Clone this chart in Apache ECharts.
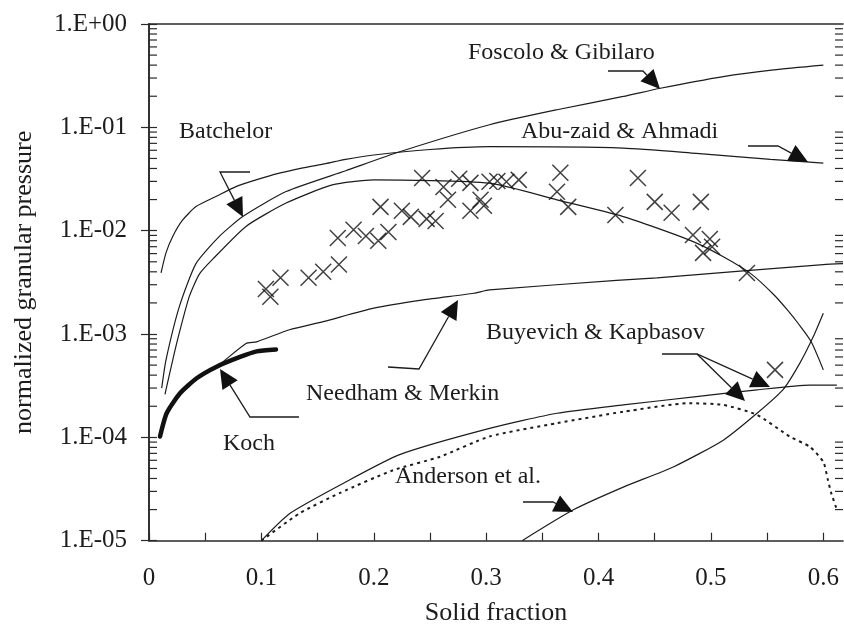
<!DOCTYPE html>
<html>
<head>
<meta charset="utf-8">
<script src="https://cdn.jsdelivr.net/npm/echarts@6/dist/echarts.min.js"></script>
<style>
  html, body { margin: 0; padding: 0; background: #ffffff; }
  #chart { width: 844px; height: 628px; }
</style>
</head>
<body>
<div id="chart"></div>
<script>
// Normalized granular pressure vs. solid fraction: model curves and measurements.

// Foscolo & Gibilaro
const foscolo = [
  [0.0113, 3.0e-4], [0.0151, 5.6e-4], [0.027, 1.84e-3], [0.0418, 4.8e-3], [0.0626, 8.8e-3],
  [0.0834, 1.37e-2], [0.122, 2.39e-2], [0.175, 3.8e-2], [0.223, 5.8e-2], [0.303, 0.106],
  [0.363, 0.148], [0.422, 0.199], [0.455, 0.239], [0.511, 0.31], [0.556, 0.36], [0.600, 0.40]
];
// Abu-zaid & Ahmadi
const abuZaid = [
  [0.0107, 3.9e-3], [0.0151, 6.1e-3], [0.0211, 8.8e-3], [0.030, 1.27e-2], [0.0418, 1.71e-2],
  [0.0596, 2.14e-2], [0.0774, 2.67e-2], [0.0952, 3.1e-2], [0.116, 3.6e-2], [0.137, 4.05e-2],
  [0.157, 4.45e-2], [0.175, 4.9e-2], [0.200, 5.4e-2], [0.250, 6.1e-2], [0.303, 6.5e-2],
  [0.422, 6.3e-2], [0.487, 5.6e-2], [0.553, 4.9e-2], [0.600, 4.5e-2]
];
// Batchelor
const batchelor = [
  [0.0142, 2.6e-4], [0.0211, 5.6e-4], [0.027, 1.03e-3], [0.0358, 2.3e-3], [0.0448, 3.8e-3],
  [0.0567, 5.3e-3], [0.0863, 1.1e-2], [0.122, 1.85e-2], [0.163, 2.77e-2], [0.200, 3.1e-2],
  [0.303, 2.88e-2], [0.363, 1.99e-2], [0.422, 1.37e-2], [0.481, 8.1e-3], [0.511, 5.6e-3],
  [0.536, 3.8e-3], [0.556, 2.4e-3], [0.568, 1.71e-3], [0.578, 1.25e-3], [0.589, 8.5e-4],
  [0.600, 4.5e-4]
];
// Needham & Merkin
const needham = [
  [0.0098, 1.02e-4], [0.0157, 1.71e-4], [0.0276, 2.67e-4], [0.0424, 3.73e-4], [0.0602, 4.83e-4],
  [0.0863, 8.1e-4], [0.0958, 8.4e-4], [0.125, 1.10e-3], [0.155, 1.32e-3], [0.200, 1.78e-3],
  [0.244, 2.14e-3], [0.289, 2.48e-3], [0.303, 2.67e-3], [0.416, 3.3e-3], [0.452, 3.5e-3],
  [0.600, 4.7e-3], [0.6175, 4.8e-3]
];
// Koch
const koch = [
  [0.0098, 1.02e-4], [0.0157, 1.71e-4], [0.0276, 2.67e-4], [0.0424, 3.73e-4], [0.0602, 4.83e-4],
  [0.081, 6.0e-4], [0.0958, 6.8e-4], [0.113, 7.1e-4]
];
// Buyevich & Kapbasov (solid and dotted)
const buyevichSolid = [
  [0.100, 1.0e-5], [0.1255, 1.84e-5], [0.173, 3.6e-5], [0.223, 6.8e-5], [0.303, 1.22e-4],
  [0.363, 1.71e-4], [0.422, 2.06e-4], [0.487, 2.48e-4], [0.541, 2.88e-4], [0.588, 3.2e-4],
  [0.612, 3.2e-4]
];
const buyevichDotted = [
  [0.100, 1.0e-5], [0.134, 1.84e-5], [0.170, 2.9e-5], [0.217, 4.8e-5], [0.259, 6.5e-5],
  [0.303, 1.02e-4], [0.363, 1.37e-4], [0.422, 1.77e-4], [0.481, 2.14e-4], [0.511, 2.06e-4],
  [0.541, 1.65e-4], [0.570, 1.02e-4], [0.588, 8.1e-5], [0.600, 5.8e-5], [0.604, 3.9e-5],
  [0.607, 2.9e-5], [0.612, 2.0e-5]
];
// Anderson et al.
const anderson = [
  [0.332, 1.0e-5], [0.378, 2.0e-5], [0.422, 3.3e-5], [0.467, 5.2e-5], [0.511, 9.4e-5],
  [0.541, 1.71e-4], [0.564, 2.88e-4], [0.579, 5.2e-4], [0.591, 9.4e-4], [0.600, 1.59e-3]
];
// Measured points
const measured = [
  [0.104, 2.73e-3], [0.108, 2.29e-3], [0.117, 3.5e-3], [0.142, 3.5e-3], [0.155, 4.0e-3],
  [0.169, 4.7e-3], [0.168, 8.5e-3], [0.182, 1.02e-2], [0.193, 8.9e-3], [0.204, 8.0e-3],
  [0.213, 9.7e-3], [0.206, 1.70e-2], [0.225, 1.56e-2], [0.233, 1.36e-2], [0.247, 1.30e-2],
  [0.255, 1.24e-2], [0.243, 3.24e-2], [0.262, 2.65e-2], [0.266, 1.99e-2], [0.276, 3.18e-2],
  [0.286, 2.90e-2], [0.286, 1.56e-2], [0.295, 1.99e-2], [0.298, 1.74e-2], [0.303, 2.97e-2],
  [0.310, 3.03e-2], [0.318, 2.97e-2], [0.329, 3.10e-2], [0.366, 3.63e-2], [0.363, 2.38e-2],
  [0.373, 1.70e-2], [0.415, 1.42e-2], [0.435, 3.24e-2], [0.450, 1.90e-2], [0.465, 1.49e-2],
  [0.491, 1.90e-2], [0.484, 9.1e-3], [0.499, 8.3e-3], [0.501, 7.0e-3], [0.493, 6.1e-3],
  [0.532, 3.9e-3], [0.557, 4.5e-4]
];

// Axis tick labels
const xTickLabels = ['0', '0.1', '0.2', '0.3', '0.4', '0.5', '0.6'];
const yTickLabels = ['1.E-05', '1.E-04', '1.E-03', '1.E-02', '1.E-01', '1.E+00'];

// Minor tick positions on the log axis: 2..9 within each decade
const decadeStarts = [1e-5, 1e-4, 1e-3, 1e-2, 1e-1];
const minorSteps = [2, 3, 4, 5, 6, 7, 8, 9];
const minorTicks = [];
decadeStarts.forEach(d => minorSteps.forEach(m => minorTicks.push([0, d * m])));

const INK = '#1c1c1c';
const SERIF = '"Liberation Serif", "Times New Roman", serif';

function curve(name, data, extra) {
  return Object.assign({
    name: name, type: 'line', data: data, showSymbol: false, smooth: 0.2,
    lineStyle: { color: INK, width: 1.2 }, z: 3, animation: false
  }, extra || {});
}

// Annotation arrow: polyline with a filled triangular head at the last point
function arrow(points) {
  const n = points.length;
  const a = points[n - 2], b = points[n - 1];
  const dx = b[0] - a[0], dy = b[1] - a[1];
  const L = Math.hypot(dx, dy);
  const ux = dx / L, uy = dy / L;
  const hl = 19, hw = 9;
  const bx = b[0] - ux * hl, by = b[1] - uy * hl;
  return [
    { type: 'polyline', z: 20, shape: { points: points.slice(0, n - 1).concat([[bx, by]]) },
      style: { stroke: INK, lineWidth: 1.3, fill: null } },
    { type: 'polygon', z: 20, shape: { points: [b, [bx - uy * hw, by + ux * hw], [bx + uy * hw, by - ux * hw]] },
      style: { fill: '#111' } }
  ];
}

function label(text, x, y) {
  return { type: 'text', z: 20, x: x, y: y,
    style: { text: text, font: '24px ' + SERIF, fill: INK, align: 'left', verticalAlign: 'middle' } };
}

const graphics = [].concat(
  label('Foscolo & Gibilaro', 468, 52.5),
  label('Batchelor', 179, 132),
  label('Abu-zaid & Ahmadi', 521, 132),
  label('Buyevich & Kapbasov', 486, 332.5),
  label('Needham & Merkin', 306, 394),
  label('Koch', 223, 444),
  label('Anderson et al.', 395, 477),
  arrow([[608, 71], [643, 71], [660, 89]]),
  arrow([[748, 146], [778, 146], [808, 162]]),
  arrow([[250, 172], [220, 172], [243, 217]]),
  arrow([[388, 367], [419, 369], [458, 300]]),
  arrow([[299, 417], [250, 417], [220, 369]]),
  arrow([[662, 354], [697, 354], [770, 387]]),
  arrow([[697, 354], [745, 401]]),
  arrow([[523, 502], [553, 502], [573, 512]])
);

const chart = echarts.init(document.getElementById('chart'), null, { renderer: 'canvas' });

const axisLineStyle = { color: '#2a2a2a', width: 1.6 };
const tickStyle = { color: '#2a2a2a', width: 1.2 };

chart.setOption({
  animation: false,
  backgroundColor: '#ffffff',
  grid: { left: 149, top: 24, width: 694, height: 516.7, containLabel: false, outerBoundsMode: 'none' },
  xAxis: [
    {
      type: 'value', min: 0, max: 0.6175, interval: 0.05, position: 'bottom',
      name: 'Solid fraction', nameLocation: 'middle', nameGap: 59,
      nameTextStyle: { fontFamily: SERIF, fontSize: 26, color: INK },
      axisLine: { show: true, lineStyle: axisLineStyle },
      axisTick: { show: true, inside: true, length: 8, lineStyle: tickStyle },
      splitLine: { show: false },
      axisLabel: {
        margin: 25, fontFamily: SERIF, fontSize: 25, color: INK,
        showMaxLabel: false,
        formatter: function (v) {
          const k = Math.round(v * 10);
          if (Math.abs(v * 10 - k) > 1e-6 || k > 6) return '';
          return xTickLabels[k];
        }
      }
    },
    {
      type: 'value', min: 0, max: 0.6175, position: 'top',
      axisLine: { show: true, lineStyle: axisLineStyle },
      axisTick: { show: false }, axisLabel: { show: false }, splitLine: { show: false }
    }
  ],
  yAxis: [
    {
      type: 'log', logBase: 10, min: 1e-5, max: 1, position: 'left',
      name: 'normalized granular pressure', nameLocation: 'middle', nameGap: 112, nameRotate: 90,
      nameTextStyle: { fontFamily: SERIF, fontSize: 26, color: INK },
      axisLine: { show: true, lineStyle: axisLineStyle },
      axisTick: { show: true, inside: true, length: 8, lineStyle: tickStyle },
      splitLine: { show: false },
      axisLabel: {
        margin: 22, fontFamily: SERIF, fontSize: 25, color: INK,
        formatter: function (v) {
          const e = Math.round(Math.log10(v));
          return yTickLabels[e + 5];
        }
      }
    },
    {
      type: 'log', logBase: 10, min: 1e-5, max: 1, position: 'right',
      axisLine: { show: true, lineStyle: axisLineStyle },
      axisTick: { show: true, inside: true, length: 8, lineStyle: tickStyle },
      axisLabel: { show: false }, splitLine: { show: false }
    }
  ],
  series: [
    {
      name: 'minor ticks', type: 'custom', data: minorTicks, encode: { x: 0, y: 1 },
      silent: true, z: 2, clip: false,
      renderItem: function (params, api) {
        const p = api.coord([0, api.value(1)]);
        const cs = params.coordSys;
        const st = { stroke: '#2a2a2a', lineWidth: 1.2 };
        return { type: 'group', children: [
          { type: 'line', shape: { x1: cs.x, y1: p[1], x2: cs.x + 8, y2: p[1] }, style: st },
          { type: 'line', shape: { x1: cs.x + cs.width, y1: p[1], x2: cs.x + cs.width - 8, y2: p[1] }, style: st }
        ] };
      }
    },
    curve('Foscolo & Gibilaro', foscolo),
    curve('Abu-zaid & Ahmadi', abuZaid),
    curve('Batchelor', batchelor),
    curve('Needham & Merkin', needham),
    curve('Koch', koch, { lineStyle: { color: '#111', width: 4.5, cap: 'round' }, z: 4 }),
    curve('Buyevich & Kapbasov', buyevichSolid),
    curve('Buyevich & Kapbasov (dotted)', buyevichDotted, { lineStyle: { color: INK, width: 2, type: [3, 4] } }),
    curve('Anderson et al.', anderson),
    {
      name: 'measured', type: 'scatter', data: measured, z: 5,
      symbol: 'path://M0 0L16 16M16 0L0 16', symbolSize: 16,
      itemStyle: { color: 'none', borderColor: '#111', borderWidth: 1.5 }
    }
  ],
  graphic: graphics
});
</script>
</body>
</html>
